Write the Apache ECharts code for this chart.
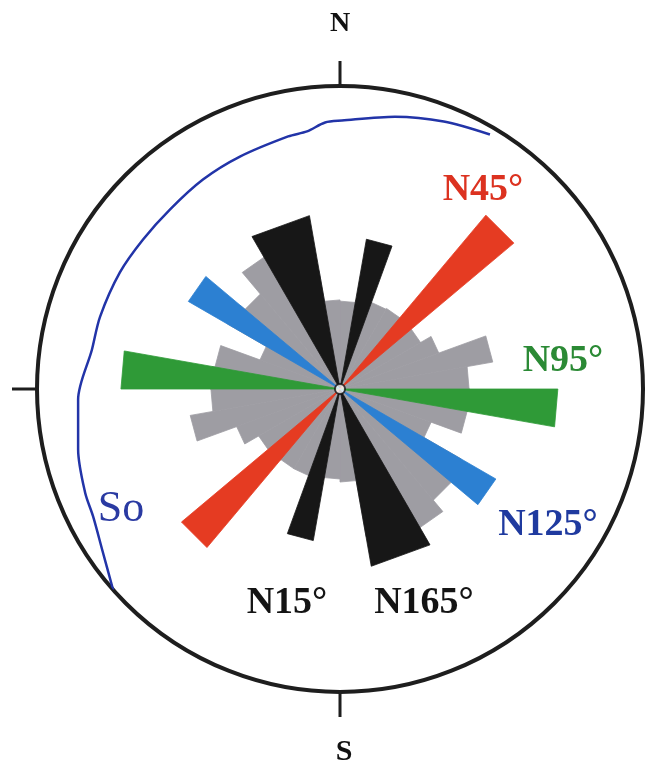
<!DOCTYPE html>
<html lang="en">
<head>
    <meta charset="UTF-8">
    <title>Rose diagram</title>
    <script type="text/javascript" src="https://cdn.jsdelivr.net/npm/echarts@6/dist/echarts.min.js"></script>
    <style>
        html, body { margin: 0; padding: 0; background: #ffffff; }
    </style>
</head>
<body>
    <div id="chart" style="width:645px;height:767px;"></div>
<script>
// 10 degree bins, gray rose (length in % of the circle radius)
var binStart = [0, 10, 20, 30, 40, 50, 60, 70, 80, 90, 100, 110,
                120, 130, 140, 150, 160, 170, 180, 190, 200, 210, 220, 230,
                240, 250, 260, 270, 280, 290, 300, 310, 320, 330, 340, 350];
var grayLength = [29.0, 29.7, 30.4, 30.7, 30.7, 30.7, 34.7, 51.2, 42.6, 42.9, 42.6, 32.0,
                  46.2, 47.9, 52.8, 52.8, 49.5, 30.7, 29.7, 29.7, 30.4, 30.4, 31.0, 31.0,
                  36.3, 50.2, 42.6, 42.9, 41.9, 28.1, 42.9, 40.9, 50.2, 49.5, 39.6, 29.4];

// main directions: [from, to, length]
var blackPetals = [[10, 20, 50.2], [190, 200, 50.8], [150, 170, 59.4], [330, 350, 58.1]];
var bluePetals  = [[120, 130, 59.4], [300, 310, 57.8]];
var greenPetals = [[90, 100, 71.9], [270, 280, 72.3]];
var redPetals   = [[40, 50, 74.9], [220, 230, 68.3]];

// So trace: [radius %, azimuth]
var soTrace = [[97.5, 30.5], [94.7, 21.2], [91.7, 11.4], [88.6, 0.4], [88.1, 356.8],
               [85.7, 352.7], [85.1, 348.4], [83.5, 336.7], [82.6, 326.8], [81.6, 316.6],
               [81.6, 307.2], [82.2, 297.9], [82.7, 286.8], [82.9, 279.0], [86.5, 267.7],
               [88.7, 257.0], [90.8, 247.9], [91.7, 242.7], [94.7, 236.0], [100, 228.5]];

var grayData = binStart.map(function (a, i) { return [a, a + 10, grayLength[i]]; });

var myChart = echarts.init(document.getElementById('chart'));

// petal = triangle from the centre to the chord at its length
function renderPetal(params, api) {
    var a0 = api.value(0), a1 = api.value(1), r = api.value(2);
    var color = api.visual('color');
    return {
        type: 'polygon',
        shape: { points: [api.coord([0, a0]), api.coord([r, a0]), api.coord([r, a1])] },
        style: { fill: color, stroke: color, lineWidth: 0.8, lineJoin: 'miter' }
    };
}

function petalSeries(data, color) {
    return {
        type: 'custom',
        coordinateSystem: 'polar',
        renderItem: renderPetal,
        itemStyle: { color: color },
        encode: { radius: 2, angle: 0 },
        data: data,
        silent: true
    };
}

var labelFont = '"Liberation Serif", "Times New Roman", serif';

var option = {
    backgroundColor: '#ffffff',
    animation: false,
    polar: { center: [340, 389], radius: 303 },
    angleAxis: {
        type: 'value',
        min: 0,
        max: 360,
        interval: 90,
        startAngle: 90,
        clockwise: true,
        axisLine: { show: true, lineStyle: { color: '#1e1e1e', width: 4 } },
        axisTick: { show: true, inside: false, length: 25, lineStyle: { color: '#1e1e1e', width: 3 } },
        axisLabel: { show: false },
        splitLine: { show: false }
    },
    radiusAxis: {
        type: 'value',
        min: 0,
        max: 100,
        axisLine: { show: false },
        axisTick: { show: false },
        axisLabel: { show: false },
        splitLine: { show: false }
    },
    series: [
        petalSeries(grayData, '#9e9da3'),
        petalSeries(blackPetals, '#171717'),
        petalSeries(greenPetals, '#2f9a37'),
        petalSeries(bluePetals, '#2c80d2'),
        petalSeries(redPetals, '#e53b22'),
        {
            type: 'scatter',
            coordinateSystem: 'polar',
            data: [[0, 0]],
            symbolSize: 10,
            itemStyle: { color: '#ffffff', borderColor: '#111111', borderWidth: 2 },
            z: 5
        },
        {
            type: 'line',
            coordinateSystem: 'polar',
            data: soTrace,
            symbol: 'none',
            smooth: 0.3,
            lineStyle: { color: '#2234a8', width: 2.5 },
            z: 4
        }
    ],
    graphic: [
        { type: 'text', x: 340, y: 24, style: { text: 'N', font: 'bold 28px ' + labelFont, fill: '#111', align: 'center', verticalAlign: 'middle' } },
        { type: 'text', x: 344, y: 752, style: { text: 'S', font: 'bold 30px ' + labelFont, fill: '#111', align: 'center', verticalAlign: 'middle' } },
        { type: 'text', x: 483, y: 190, style: { text: 'N45°', font: 'bold 38px ' + labelFont, fill: '#dc3220', align: 'center', verticalAlign: 'middle' } },
        { type: 'text', x: 563, y: 361, style: { text: 'N95°', font: 'bold 38px ' + labelFont, fill: '#2b8a35', align: 'center', verticalAlign: 'middle' } },
        { type: 'text', x: 548, y: 525, style: { text: 'N125°', font: 'bold 38px ' + labelFont, fill: '#1f3a9f', align: 'center', verticalAlign: 'middle' } },
        { type: 'text', x: 424, y: 603, style: { text: 'N165°', font: 'bold 38px ' + labelFont, fill: '#141414', align: 'center', verticalAlign: 'middle' } },
        { type: 'text', x: 287, y: 603, style: { text: 'N15°', font: 'bold 38px ' + labelFont, fill: '#141414', align: 'center', verticalAlign: 'middle' } },
        { type: 'text', x: 121, y: 509, style: { text: 'So', font: '44px ' + labelFont, fill: '#2a3aa2', align: 'center', verticalAlign: 'middle' } }
    ]
};

myChart.setOption(option);
</script>
</body>
</html>
